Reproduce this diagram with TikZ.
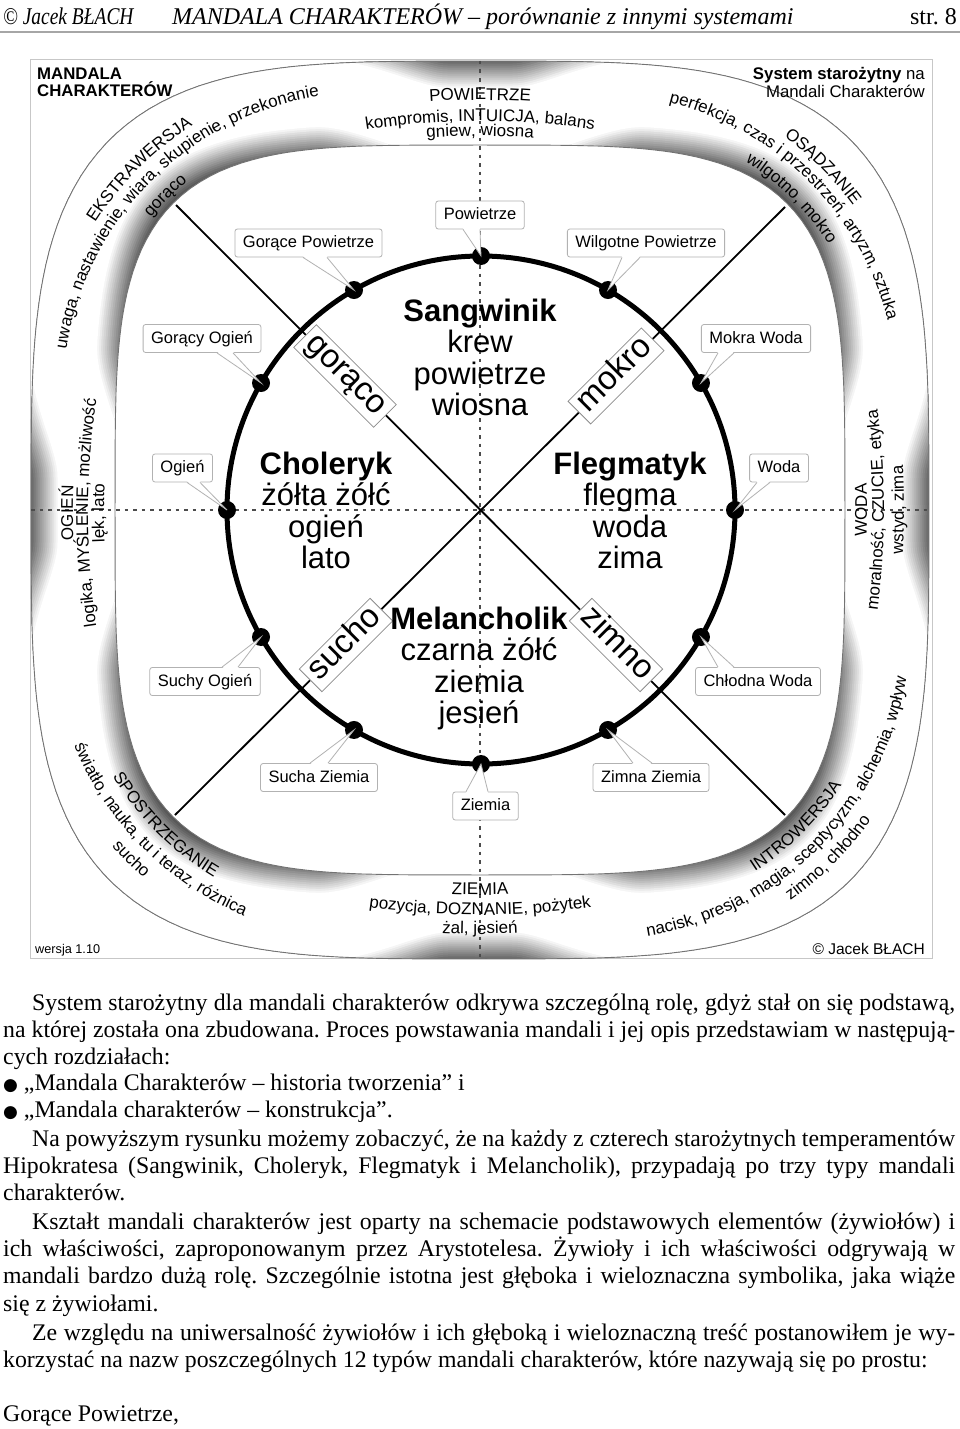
\documentclass[tikz,border=0pt]{standalone}
\usepackage{fontspec}
\setmainfont{Liberation Serif}
\setsansfont{Liberation Sans}
\newfontfamily\djv{DejaVu Sans}
\usetikzlibrary{decorations.text}
\frenchspacing

\newcommand\bandf{\sffamily\fontsize{17}{19}\selectfont}
\newcommand\cboxf{\sffamily\fontsize{16.5}{18}\selectfont}
\newcommand\bigf{\sffamily\fontsize{31}{32}\selectfont}
\newcommand\diagf{\sffamily\fontsize{33}{34}\selectfont}
\newcommand\parf{\rmfamily\fontsize{23.8}{27}\selectfont}
\newcommand\hdrf{\rmfamily\fontsize{24}{26}\selectfont}
\newcommand\cornf{\sffamily\fontsize{16.8}{18}\selectfont}
\newcommand\bul{{\djv\fontsize{17}{20}\selectfont ●}}

\newcommand\calloutS[4]{%
  \fill[white] ([xshift=#2,yshift=1.2]#1.south) -- (#4) -- ([xshift=#3,yshift=1.2]#1.south) -- cycle;
  \draw[ptr] ([xshift=#2]#1.south) -- (#4) -- ([xshift=#3]#1.south);}
\newcommand\calloutN[4]{%
  \fill[white] ([xshift=#2,yshift=-1.2]#1.north) -- (#4) -- ([xshift=#3,yshift=-1.2]#1.north) -- cycle;
  \draw[ptr] ([xshift=#2]#1.north) -- (#4) -- ([xshift=#3]#1.north);}

\tikzset{
  declare function={
    sqf(\t)=(abs(cos(\t))^4+abs(sin(\t))^4)^0.25;
    sqo(\t)=(abs(cos(\t))^3.6+abs(sin(\t))^3.6)^0.27778;
    phc(\t)=abs(mod(\t+45,90)-45);
    ust(\t)=min(1,max(0,(phc(\t)-5)/17));
    frc(\t)=0.28+0.37*ust(\t)*ust(\t)*(3-2*ust(\t));
  },
  cbox/.style={draw=black!30, fill=white, line width=0.8, rounded corners=2.5, inner xsep=8, inner ysep=6, text height=12.5, text depth=3.5, font=\cboxf},
  ptr/.style={draw=black!30, line width=0.8},
  dbox/.style={draw=black!45, fill=white, line width=0.8, inner xsep=6, inner ysep=2, text height=21, text depth=7, font=\diagf},
  dashline/.style={black!70, line width=1.3, dash pattern=on 3.5pt off 5pt},
  diagline/.style={black, line width=1.8},
  bandtext/.style={decorate, decoration={text along path, text align=center, text={#1}}},
  bigt/.style={anchor=base, font=\bigf, inner sep=0},
  part/.style={anchor=base west, font=\parf, inner sep=0},
}

\begin{document}
\begin{tikzpicture}[x=1pt,y=1pt]
\useasboundingbox (0,0) rectangle (960,-1429);
\fill[white] (0,0) rectangle (960,-1429);

% ---------- header ----------
\node[anchor=base west, inner sep=0, font=\hdrf\itshape] (hname) at (3,-25) {\scalebox{0.81}[1]{© Jacek BŁACH}};
\node[anchor=base west, inner sep=0, font=\hdrf\itshape] (htitle) at (172,-25) {MANDALA CHARAKTERÓW – porównanie z innymi systemami};
\node[anchor=base east, inner sep=0, font=\hdrf] (hpage) at (957,-25) {str. 8};
\coordinate (rl) at (0,-32); \coordinate (rr) at (960,-32);
\draw[black!35, line width=1.2] (rl) -- (rr);

% ---------- frame ----------
\draw[black!22, line width=1] (30,-60) rectangle (932,-958);

% ---------- band ----------
\begin{scope}[shift={(480,-510)}]
  \begin{scope}
    \clip plot[domain=0.5:360.5,samples=241] ({449/sqo(\x)*cos(\x)},{449/sqo(\x)*sin(\x)}) -- cycle;
    \fill[black!70] (-560,-560) rectangle (560,560);
    \foreach \d in {66,64,...,34}{
      \pgfmathtruncatemacro\lv{min(70,2.2*(\d-34))}
      \pgfmathsetmacro\lw{2*\d}
      \draw[line width=\lw pt, black!\lv, line join=round] plot[domain=0:360,samples=241] ({(365+84*frc(\x))/sqf(\x)*cos(\x)},{(365+84*frc(\x))/sqf(\x)*sin(\x)}) -- cycle;
    }
  \end{scope}
  \fill[white] plot[domain=0:360,samples=241] ({365/sqf(\x)*cos(\x)},{365/sqf(\x)*sin(\x)}) -- cycle;
  \draw[black!55, line width=0.9] plot[domain=0:360,samples=241] ({365/sqf(\x)*cos(\x)},{365/sqf(\x)*sin(\x)}) -- cycle;
  \draw[black!55, line width=0.9] plot[domain=0.5:360.5,samples=241] ({449/sqo(\x)*cos(\x)},{449/sqo(\x)*sin(\x)}) -- cycle;
\end{scope}

% ---------- dashed axes ----------
\coordinate (vt) at (480,-61); \coordinate (vb) at (480,-957);
\coordinate (hl) at (31,-510); \coordinate (hr) at (929,-510);
\draw[dashline] (vt) -- (vb);
\draw[dashline] (hl) -- (hr);

% ---------- diagonals ----------
\coordinate (cc) at (481,-510);
\coordinate (pGor) at (345,-376);
\coordinate (pMok) at (616,-376);
\coordinate (pSuc) at (346,-645);
\coordinate (pZim) at (616,-645);
\coordinate (eTL) at (176,-205);
\coordinate (eTR) at (785,-207);
\coordinate (eBL) at (175,-815);
\coordinate (eBR) at (785,-815);
\draw[diagline] (eTL) -- (eBR);
\draw[diagline] (eTR) -- (eBL);

% ---------- circle and dots ----------
\draw[line width=5] (cc) circle[radius=254];
\begin{scope}[shift={(481,-510)}]
  \foreach \a in {0,30,...,330}{
    \coordinate (d\a) at (\a:254);
    \fill (d\a) circle[radius=9];
  }
\end{scope}

% ---------- callout boxes ----------
\node[cbox] (cPw) at (480,-215) {Powietrze};
\calloutS{cPw}{-17}{0}{d90}
\node[cbox] (cGP) at (308.5,-243) {Gorące Powietrze};
\calloutS{cGP}{-5.5}{18.5}{d120}
\node[cbox] (cWP) at (646,-243) {Wilgotne Powietrze};
\calloutS{cWP}{-24}{-6}{d60}
\node[cbox] (cGO) at (202,-338.5) {Gorący Ogień};
\calloutS{cGO}{15}{31}{d150}
\node[cbox] (cMW) at (756,-338.5) {Mokra Woda};
\calloutS{cMW}{-38}{-22}{d30}
\node[cbox] (cOg) at (182.5,-468) {Ogień};
\calloutS{cOg}{4.5}{17.5}{d180}
\node[cbox] (cWo) at (779,-468) {Woda};
\calloutS{cWo}{-22}{-9}{d0}
\node[cbox] (cSO) at (205,-681.5) {Suchy Ogień};
\calloutN{cSO}{17}{33}{d210}
\node[cbox] (cCW) at (758,-681.5) {Chłodna Woda};
\calloutN{cCW}{-40}{-24}{d330}
\node[cbox] (cSZ) at (319,-777.5) {Sucha Ziemia};
\calloutN{cSZ}{-9}{9}{d240}
\node[cbox] (cZZ) at (651,-777.5) {Zimna Ziemia};
\calloutN{cZZ}{-18}{1}{d300}
\node[cbox] (cZi) at (485.5,-806) {Ziemia};
\calloutN{cZi}{-19.5}{2.5}{d270}

% ---------- diagonal quality boxes ----------
\node[dbox, rotate=-45] (gor) at (pGor) {gorąco};
\node[dbox, rotate=45] (mok) at (pMok) {mokro};
\node[dbox, rotate=45] (suc) at (pSuc) {sucho};
\node[dbox, rotate=-45] (zim) at (pZim) {zimno};

% ---------- temperaments ----------
\node[bigt] (t1) at (480,-321) {\bfseries Sangwinik};
\node[bigt] (t2) at (480,-352.5) {krew};
\node[bigt] (t3) at (480,-384) {powietrze};
\node[bigt] (t4) at (480,-415) {wiosna};
\node[bigt] (c1) at (326,-474) {\bfseries Choleryk};
\node[bigt] (c2) at (326,-505.5) {żółta żółć};
\node[bigt] (c3) at (326,-537) {ogień};
\node[bigt] (c4) at (326,-568) {lato};
\node[bigt] (f1) at (630,-474) {\bfseries Flegmatyk};
\node[bigt] (f2) at (630,-505.5) {flegma};
\node[bigt] (f3) at (630,-537) {woda};
\node[bigt] (f4) at (630,-568) {zima};
\node[bigt] (m1) at (479,-629) {\bfseries Melancholik};
\node[bigt] (m2) at (479,-660.5) {czarna żółć};
\node[bigt] (m3) at (479,-692) {ziemia};
\node[bigt] (m4) at (479,-723) {jesień};

% ---------- band texts ----------
\coordinate (tC) at (480,-880);
\coordinate (bC) at (480,-140);
\coordinate (lC) at (850,-513);
\coordinate (rC) at (110,-510);
\coordinate (tlE) at (365,-395);
\coordinate (trE) at (595,-395);
\coordinate (brE) at (595,-625);
\coordinate (blE) at (365,-625);

\path[bandtext={|\bandf|POWIETRZE}] ([shift={(110:780)}]tC) arc[start angle=110, end angle=70, radius=780];
\path[bandtext={|\bandf|kompromis, INTUICJA, balans}] ([shift={(110:759)}]tC) arc[start angle=110, end angle=70, radius=759];
\path[bandtext={|\bandf|gniew, wiosna}] ([shift={(110:744)}]tC) arc[start angle=110, end angle=70, radius=744];

\path[bandtext={|\bandf|ZIEMIA}] ([shift={(250:755)}]bC) arc[start angle=250, end angle=290, radius=755];
\path[bandtext={|\bandf|pozycja, DOZNANIE, pożytek}] ([shift={(250:775)}]bC) arc[start angle=250, end angle=290, radius=775];
\path[bandtext={|\bandf|żal, jesień}] ([shift={(250:794)}]bC) arc[start angle=250, end angle=290, radius=794];

\path[bandtext={|\bandf|OGIEŃ}] ([shift={(200:777)}]lC) arc[start angle=200, end angle=160, radius=777];
\path[bandtext={|\bandf|logika, MYŚLENIE, możliwość}] ([shift={(200:762)}]lC) arc[start angle=200, end angle=160, radius=762];
\path[bandtext={|\bandf|lęk, lato}] ([shift={(200:746)}]lC) arc[start angle=200, end angle=160, radius=746];

\path[bandtext={|\bandf|WODA}] ([shift={(-20:757)}]rC) arc[start angle=-20, end angle=20, radius=757];
\path[bandtext={|\bandf|moralność, CZUCIE, etyka}] ([shift={(-20:774)}]rC) arc[start angle=-20, end angle=20, radius=774];
\path[bandtext={|\bandf|wstyd, zima}] ([shift={(-20:794)}]rC) arc[start angle=-20, end angle=20, radius=794];

\path[bandtext={|\bandf|EKSTRAWERSJA}] ([shift={(210:320)}]tlE) arc[start angle=210, end angle=60, radius=320];
\path[bandtext={|\bandf|uwaga, nastawienie, wiara, skupienie, przekonanie}] ([shift={(210:302)}]tlE) arc[start angle=210, end angle=60, radius=302];
\path[bandtext={|\bandf|gorąco}] ([shift={(210:278)}]tlE) arc[start angle=210, end angle=60, radius=278];

\path[bandtext={|\bandf|OSĄDZANIE}] ([shift={(120:320)}]trE) arc[start angle=120, end angle=-30, radius=320];
\path[bandtext={|\bandf|perfekcja, czas i przestrzeń, artyzm, sztuka}] ([shift={(120:302)}]trE) arc[start angle=120, end angle=-30, radius=302];
\path[bandtext={|\bandf|wilgotno, mokro}] ([shift={(120:278)}]trE) arc[start angle=120, end angle=-30, radius=278];

\path[bandtext={|\bandf|INTROWERSJA}] ([shift={(-120:294)}]brE) arc[start angle=-120, end angle=30, radius=294];
\path[bandtext={|\bandf|nacisk, presja, magia, sceptycyzm, alchemia, wpływ}] ([shift={(-120:316)}]brE) arc[start angle=-120, end angle=30, radius=316];
\path[bandtext={|\bandf|zimno, chłodno}] ([shift={(-120:338)}]brE) arc[start angle=-120, end angle=30, radius=338];

\path[bandtext={|\bandf|SPOSTRZEGANIE}] ([shift={(150:294)}]blE) arc[start angle=150, end angle=300, radius=294];
\path[bandtext={|\bandf|światło, nauka, tu i teraz, różnica}] ([shift={(150:315)}]blE) arc[start angle=150, end angle=300, radius=315];
\path[bandtext={|\bandf|sucho}] ([shift={(150:336)}]blE) arc[start angle=150, end angle=300, radius=336];

% ---------- corner labels ----------
\node[anchor=base west, inner sep=0, font=\cornf\bfseries] (mc1) at (37,-79) {MANDALA};
\node[anchor=base west, inner sep=0, font=\cornf\bfseries] (mc2) at (37,-96) {CHARAKTERÓW};
\node[anchor=base east, inner sep=0, font=\cornf] (ss1) at (925,-80) {\textbf{System starożytny} na};
\node[anchor=base east, inner sep=0, font=\cornf] (ss2) at (925,-97) {Mandali Charakterów};
\node[anchor=base west, inner sep=0, font=\sffamily\fontsize{12.7}{14}\selectfont] (ver) at (35,-953) {wersja 1.10};
\node[anchor=base east, inner sep=0, font=\sffamily\fontsize{15.5}{17}\selectfont] (cpy) at (925,-954) {© Jacek BŁACH};

% ---------- paragraph text ----------
\node[part] (p1) at (32,-1010) {\makebox[923pt][s]{System starożytny dla mandali charakterów odkrywa szczególną rolę, gdyż stał on się podstawą,}};
\node[part] (p2) at (3,-1037) {\makebox[952pt][s]{na której została ona zbudowana. Proces powstawania mandali i jej opis przedstawiam w następują-}};
\node[part] (p3) at (3,-1064) {cych rozdziałach:};
\node[part] (p4) at (3,-1090) {\bul\ „Mandala Charakterów – historia tworzenia” i};
\node[part] (p5) at (3,-1117) {\bul\ „Mandala charakterów – konstrukcja”.};
\node[part] (p6) at (32,-1146) {\makebox[923pt][s]{Na powyższym rysunku możemy zobaczyć, że na każdy z czterech starożytnych temperamentów}};
\node[part] (p7) at (3,-1173) {\makebox[952pt][s]{Hipokratesa (Sangwinik, Choleryk, Flegmatyk i Melancholik), przypadają po trzy typy mandali}};
\node[part] (p8) at (3,-1200) {charakterów.};
\node[part] (p9) at (32,-1229) {\makebox[923pt][s]{Kształt mandali charakterów jest oparty na schemacie podstawowych elementów (żywiołów) i}};
\node[part] (p10) at (3,-1256) {\makebox[952pt][s]{ich właściwości, zaproponowanym przez Arystotelesa. Żywioły i ich właściwości odgrywają w}};
\node[part] (p11) at (3,-1283) {\makebox[952pt][s]{mandali bardzo dużą rolę. Szczególnie istotna jest głęboka i wieloznaczna symbolika, jaka wiąże}};
\node[part] (p12) at (3,-1311) {się z żywiołami.};
\node[part] (p13) at (32,-1340) {\makebox[923pt][s]{Ze względu na uniwersalność żywiołów i ich głęboką i wieloznaczną treść postanowiłem je wy-}};
\node[part] (p14) at (3,-1367) {korzystać na nazw poszczególnych 12 typów mandali charakterów, które nazywają się po prostu:};
\node[part] (p15) at (3,-1421) {Gorące Powietrze,};
\end{tikzpicture}
\end{document}
